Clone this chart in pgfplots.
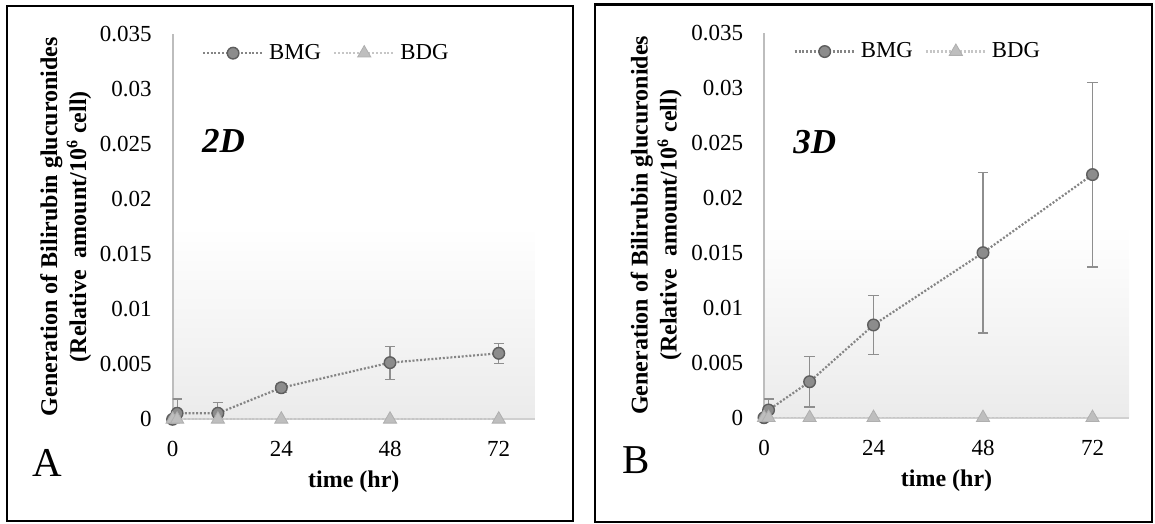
\documentclass[border=0pt]{standalone}
\usepackage{fontspec}
\setmainfont{Liberation Serif}
\usepackage{pgfplots}
\pgfplotsset{compat=1.18}

\definecolor{bgbot}{HTML}{EBEBEB}
\definecolor{bmgfill}{HTML}{8C8C8C}
\definecolor{bmgedge}{HTML}{5E5E5E}
\definecolor{bmgline}{HTML}{858585}
\definecolor{bdgfill}{HTML}{BEBEBE}
\definecolor{bdgline}{HTML}{C6C6C6}
\definecolor{errc}{HTML}{8E8E8E}
\definecolor{xline}{HTML}{D0D0D0}
\definecolor{yline}{HTML}{BDBDBD}
\pgfdeclareverticalshading{bgshade}{100bp}{color(0bp)=(bgbot); color(25bp)=(bgbot); color(50bp)=(white); color(100bp)=(white)}

% times 0,1,10,24,48,72 hr; value and error
\pgfplotstableread{
t v e
0 0 0
1 0.00055 0.0013
10 0.00055 0.001
24 0.00287 0.0004
48 0.00515 0.0015
72 0.0060 0.0009
}\bmgA
\pgfplotstableread{
t v e
0 0 0
1 0.0007 0.001
10 0.00327 0.0023
24 0.00843 0.0027
48 0.0150 0.0073
72 0.0221 0.0084
}\bmgB
\pgfplotstableread{
t v
0 0
1 0
10 0
24 0
48 0
72 0
}\bdg

\pgfplotsset{
  panel/.style={
    scale only axis, height=192.5pt,
    xmin=0, xmax=80, ymin=0, ymax=0.035,
    axis lines*=left,
    x axis line style={color=xline, line width=1pt},
    y axis line style={color=yline, line width=1pt},
    xtick={0,24,48,72},
    ytick={0,0.005,0.01,0.015,0.02,0.025,0.03,0.035},
    scaled y ticks=false,
    major tick length=0pt,
    /pgf/number format/assume math mode=true,
    yticklabel style={/pgf/number format/fixed, /pgf/number format/precision=3,
      anchor=east, inner sep=0pt, xshift=-10.3pt},
    xticklabel style={anchor=center, yshift=-15pt},
    tick label style={font=\fontsize{11.5}{13}\selectfont},
    axis background/.style={shading=bgshade},
    xlabel={time (hr)},
    xlabel style={at={(axis description cs:0.5,-0.163)}, anchor=center,
      font=\fontsize{12}{14}\selectfont\bfseries},
    ylabel={Generation of Bilirubin glucuronides\\(Relative\ \ amount/10\textsuperscript{6} cell)},
    ylabel style={at={(axis description cs:-0.295,0.5)}, anchor=center, align=center,
      font=\fontsize{12}{14.5}\selectfont\bfseries},
    legend columns=-1,
    legend style={at={(axis description cs:0.08,0.951)}, anchor=west, draw=none, fill=none,
      inner sep=0pt, font=\fontsize{11.4}{13}\selectfont,
      /tikz/every odd column/.append style={column sep=0.5pt},
      /tikz/every even column/.append style={column sep=4pt}},
    legend image code/.code={\draw[mark repeat=2,mark phase=2]
      plot coordinates {(0pt,0pt) (15pt,0pt) (30pt,0pt)};},
  },
  bmg/.style={color=bmgline, line width=1.1pt, dash pattern=on 1pt off 0.9pt,
    mark=*, mark size=2.9pt,
    mark options={solid, fill=bmgfill, draw=bmgedge, line width=0.7pt},
    error bars/.cd, y dir=both, y explicit,
    error bar style={solid, color=errc, line width=0.6pt},
    error mark options={solid, rotate=90, color=errc, line width=0.6pt, mark size=2.6pt}},
  bdg/.style={color=bdgline, line width=1.1pt, dash pattern=on 1pt off 0.9pt,
    mark=triangle*, mark size=3.8pt,
    mark options={solid, fill=bdgfill, draw=bdgfill!92!black, line width=0.4pt}},
}

\begin{document}
\begin{tikzpicture}
\path[use as bounding box] (0pt,0pt) rectangle (577.5pt,262pt);
\draw[line width=1.2pt] (3.35pt,1.5pt) rectangle (286.5pt,259pt);
\draw[line width=1.2pt] (297.4pt,1pt) rectangle (576pt,259.65pt);

\begin{axis}[panel, width=181.2pt, at={(86.3pt,52.35pt)}, anchor=south west]
  \addplot[bmg] table[x=t, y=v, y error=e] {\bmgA};
  \addlegendentry{BMG}
  \addplot[bdg] table[x=t, y=v] {\bdg};
  \addlegendentry{BDG}
\end{axis}

\begin{axis}[panel, width=182.5pt, at={(382pt,53.15pt)}, anchor=south west]
  \addplot[bmg] table[x=t, y=v, y error=e] {\bmgB};
  \addlegendentry{BMG}
  \addplot[bdg] table[x=t, y=v] {\bdg};
  \addlegendentry{BDG}
\end{axis}

\node[anchor=west, inner sep=0pt, font=\fontsize{17.5}{20}\selectfont\bfseries\itshape] at (100.85pt,191.5pt) {2D};
\node[anchor=west, inner sep=0pt, font=\fontsize{17.5}{20}\selectfont\bfseries\itshape] at (396.5pt,191.15pt) {3D};
\node[inner sep=0pt, font=\fontsize{20.5}{24}\selectfont] at (23.85pt,30.5pt) {A};
\node[inner sep=0pt, font=\fontsize{20.5}{24}\selectfont] at (318.25pt,32pt) {B};
\end{tikzpicture}
\end{document}
